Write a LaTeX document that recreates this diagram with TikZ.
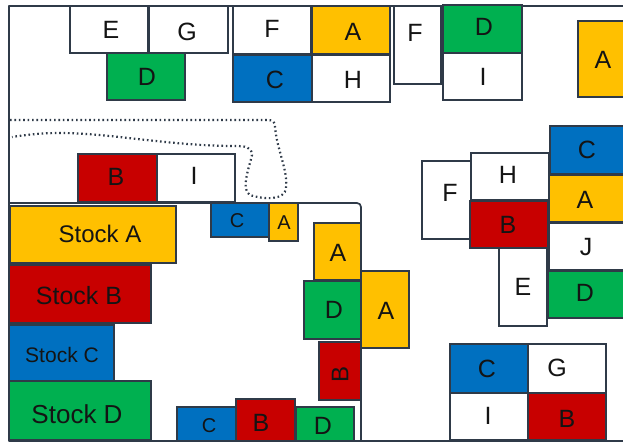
\documentclass[tikz,border=0pt]{standalone}
\usepackage{fontspec}
\setmainfont{Liberation Sans}
\definecolor{inkline}{HTML}{2F3A48}
\definecolor{inktext}{HTML}{141414}
\definecolor{sy}{HTML}{FFC000}
\definecolor{sr}{HTML}{C80000}
\definecolor{sb}{HTML}{0070C0}
\definecolor{sg}{HTML}{00B050}
\tikzset{
  stockbox/.style={draw=inkline,line width=1.7pt,inner sep=0pt,outer sep=0pt,rectangle},
  letter/.style={text=inktext,inner sep=0pt,font=\fontsize{25}{25}\selectfont},
  stocklabel/.style={text=inktext,inner sep=0pt},
  framed/.style={draw=inkline,line width=1.7pt,line join=round},
  walk/.style={draw=inkline,line width=2.2pt,dash pattern=on 1.6pt off 2.8pt}
}
% name x0 y0 x1 y1 fill tx ty label-style (text in \lbl)
\newcommand{\bx}[9]{%
  \pgfmathsetmacro{\cxv}{(#2+#4)/2}%
  \pgfmathsetmacro{\cyv}{(#3+#5)/2}%
  \pgfmathsetmacro{\wv}{#4-#2}%
  \pgfmathsetmacro{\hv}{#5-#3}%
  \node[stockbox,fill=#6,minimum width=\wv pt,minimum height=\hv pt] (#1) at (\cxv,\cyv) {};%
  \node[#9] (#1t) at (#7,#8) {\lbl};%
}
\begin{document}
\begin{tikzpicture}[x=1pt,y=-1pt]
\useasboundingbox (0,0) rectangle (623,443);
\fill[white] (0,0) rectangle (623,443);
% frame
\draw[framed] (623,6) -- (9,6) -- (9,441) -- (623,441);
\draw[framed,rounded corners=4pt] (9,203) -- (361,203) -- (361,441);
% dotted walkway
\draw[walk] (10,120) -- (268,120)
  .. controls (273,120) and (275,122) .. (275,127)
  .. controls (277,150) and (288,170) .. (286,188)
  .. controls (285,200) and (265,200) .. (250,195)
  .. controls (240,190) and (250,165) .. (252,155)
  .. controls (252,147) and (245,146) .. (235,146)
  .. controls (170,146) and (110,133) .. (60,133)
  .. controls (40,133) and (25,135) .. (12,137);
\def\lbl{E}\bx{e1}{70}{6}{148}{53}{white}{111}{30}{letter}
\def\lbl{G}\bx{g1}{149}{6}{228}{53}{white}{187}{32}{letter}
\def\lbl{D}\bx{d1}{107}{53}{185}{100}{sg}{147}{77}{letter}
\def\lbl{F}\bx{f1}{233}{6}{311}{54}{white}{272}{29}{letter}
\def\lbl{A}\bx{a1}{312}{6}{390}{54}{sy}{353}{32}{letter}
\def\lbl{C}\bx{c1}{233}{55}{312}{102}{sb}{275}{80}{letter}
\def\lbl{H}\bx{h1}{312}{55}{390}{102}{white}{353}{80}{letter}
\def\lbl{F}\bx{f2}{394}{6}{441}{84}{white}{415}{33}{letter}
\def\lbl{D}\bx{d2}{443}{5}{522}{53}{sg}{484}{27}{letter}
\def\lbl{I}\bx{i2}{443}{53}{522}{100}{white}{483}{77}{letter}
\def\lbl{A}\bx{a2}{578}{21}{630}{97}{sy}{603}{60}{letter}
\def\lbl{C}\bx{c2}{550}{126}{630}{174}{sb}{587}{150}{letter}
\def\lbl{F}\bx{f3}{422}{161}{471}{239}{white}{450}{193}{letter}
\def\lbl{H}\bx{h2}{471}{153}{549}{200}{white}{508}{175}{letter}
\def\lbl{A}\bx{a3}{549}{175}{630}{222}{sy}{585}{200}{letter}
\def\lbl{B}\bx{b2}{470}{201}{548}{248}{sr}{508}{225}{letter}
\def\lbl{J}\bx{j1}{549}{223}{630}{270}{white}{586}{247}{letter}
\def\lbl{E}\bx{e2}{499}{248}{547}{326}{white}{523}{287}{letter}
\def\lbl{D}\bx{d3}{548}{271}{630}{318}{sg}{585}{293}{letter}
\def\lbl{C}\bx{c3}{450}{344}{528}{393}{sb}{487}{369}{letter}
\def\lbl{G}\bx{g2}{528}{344}{606}{393}{white}{557}{368}{letter}
\def\lbl{I}\bx{i3}{450}{393}{528}{440}{white}{488}{416}{letter}
\def\lbl{B}\bx{b3}{528}{393}{606}{440}{sr}{567}{419}{letter}
\def\lbl{B}\bx{b1}{78}{154}{157}{202}{sr}{116}{177}{letter}
\def\lbl{I}\bx{i1}{157}{154}{235}{202}{white}{194}{176}{letter}
\def\lbl{Stock A}\bx{sa}{10}{206}{176}{263}{sy}{100}{234}{stocklabel,font=\fontsize{24}{24}\selectfont}
\def\lbl{Stock B}\bx{sb1}{9}{265}{151}{323}{sr}{79}{296}{stocklabel,font=\fontsize{25}{25}\selectfont}
\def\lbl{Stock C}\bx{sc}{9}{325}{114}{381}{sb}{62}{355}{stocklabel,font=\fontsize{21}{21}\selectfont}
\def\lbl{Stock D}\bx{sd}{9}{381}{151}{440}{sg}{77}{414}{stocklabel,font=\fontsize{26}{26}\selectfont}
\def\lbl{C}\bx{c4}{211}{203}{269}{237}{sb}{237}{221}{letter,font=\fontsize{20}{20}\selectfont}
\def\lbl{A}\bx{a4}{269}{203}{298}{241}{sy}{284}{223}{letter,font=\fontsize{20}{20}\selectfont}
\def\lbl{A}\bx{a5}{314}{223}{361}{280}{sy}{338}{253}{letter}
\def\lbl{D}\bx{d4}{304}{281}{361}{339}{sg}{334}{310}{letter}
\def\lbl{A}\bx{a6}{361}{271}{409}{348}{sy}{386}{311}{letter}
\def\lbl{B}\bx{b4}{319}{342}{361}{400}{sr}{340}{374}{letter,rotate=90,font=\fontsize{24}{24}\selectfont}
\def\lbl{C}\bx{c5}{177}{407}{236}{441}{sb}{209}{426}{letter,font=\fontsize{20}{20}\selectfont}
\def\lbl{D}\bx{d5}{296}{407}{354}{441}{sg}{323}{426}{letter}
\def\lbl{B}\bx{b5}{236}{399}{295}{441}{sr}{261}{423}{letter}
\end{tikzpicture}
\end{document}
